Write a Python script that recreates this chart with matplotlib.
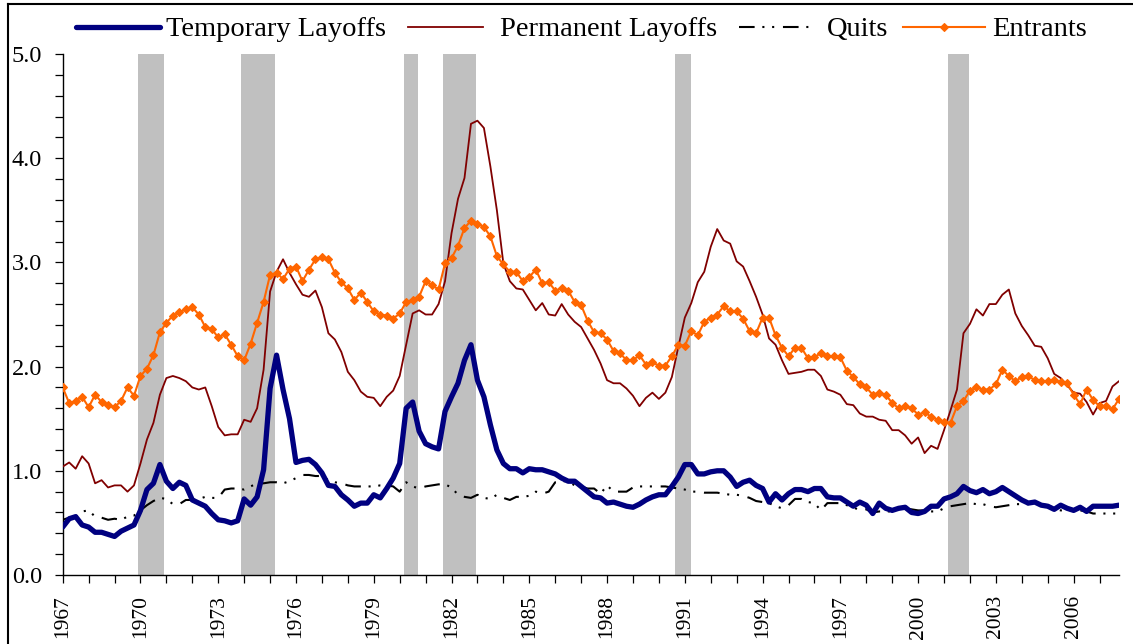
import matplotlib
matplotlib.use("Agg")
import matplotlib.pyplot as plt
import numpy as np
from matplotlib.lines import Line2D
from matplotlib.ticker import MultipleLocator, FixedLocator, FuncFormatter

plt.rcParams['font.family'] = ['Liberation Serif', 'DejaVu Serif']

start_year = 1967
periods_per_year = 4

temporary = [
    0.46, 0.54, 0.56, 0.48, 0.46, 0.41, 0.41, 0.39, 0.37, 0.42,
    0.45, 0.48, 0.62, 0.82, 0.88, 1.06, 0.90, 0.83, 0.89, 0.86,
    0.72, 0.69, 0.66, 0.59, 0.53, 0.52, 0.50, 0.52, 0.73, 0.67,
    0.75, 1.01, 1.79, 2.11, 1.78, 1.50, 1.08, 1.10, 1.11, 1.06,
    0.98, 0.86, 0.85, 0.77, 0.72, 0.66, 0.69, 0.69, 0.77, 0.74,
    0.83, 0.93, 1.07, 1.60, 1.66, 1.38, 1.26, 1.23, 1.21, 1.57,
    1.71, 1.84, 2.06, 2.21, 1.87, 1.71, 1.44, 1.20, 1.07, 1.02,
    1.02, 0.98, 1.02, 1.01, 1.01, 0.99, 0.97, 0.93, 0.90, 0.90,
    0.85, 0.80, 0.75, 0.74, 0.69, 0.70, 0.68, 0.66, 0.65, 0.68,
    0.72, 0.75, 0.77, 0.77, 0.85, 0.94, 1.06, 1.06, 0.97, 0.97,
    0.99, 1.00, 1.00, 0.94, 0.85, 0.89, 0.91, 0.86, 0.83, 0.70,
    0.78, 0.72, 0.78, 0.82, 0.82, 0.80, 0.83, 0.83, 0.75, 0.74,
    0.74, 0.70, 0.66, 0.70, 0.67, 0.59, 0.69, 0.64, 0.62, 0.64,
    0.65, 0.60, 0.59, 0.61, 0.66, 0.66, 0.73, 0.75, 0.78, 0.85,
    0.81, 0.79, 0.82, 0.78, 0.80, 0.84, 0.80, 0.76, 0.72, 0.69,
    0.70, 0.67, 0.66, 0.63, 0.67, 0.64, 0.62, 0.65, 0.61, 0.66,
    0.66, 0.66, 0.66, 0.67,
]

permanent = [
    1.04, 1.08, 1.02, 1.14, 1.07, 0.88, 0.91, 0.84, 0.86, 0.86,
    0.80, 0.86, 1.07, 1.30, 1.46, 1.73, 1.89, 1.91, 1.89, 1.86,
    1.80, 1.78, 1.80, 1.62, 1.42, 1.34, 1.35, 1.35, 1.49, 1.47,
    1.60, 1.97, 2.72, 2.91, 3.03, 2.90, 2.79, 2.69, 2.67, 2.73,
    2.57, 2.32, 2.26, 2.14, 1.95, 1.87, 1.76, 1.71, 1.70, 1.62,
    1.71, 1.77, 1.91, 2.21, 2.51, 2.54, 2.50, 2.50, 2.60, 2.82,
    3.28, 3.61, 3.81, 4.33, 4.36, 4.29, 3.92, 3.50, 2.99, 2.82,
    2.75, 2.74, 2.64, 2.54, 2.61, 2.50, 2.49, 2.60, 2.50, 2.43,
    2.38, 2.27, 2.16, 2.03, 1.87, 1.84, 1.84, 1.79, 1.72, 1.62,
    1.70, 1.75, 1.69, 1.75, 1.90, 2.19, 2.47, 2.61, 2.81, 2.91,
    3.15, 3.32, 3.21, 3.18, 3.01, 2.96, 2.82, 2.67, 2.50, 2.27,
    2.21, 2.06, 1.93, 1.94, 1.95, 1.97, 1.97, 1.91, 1.78, 1.76,
    1.73, 1.64, 1.63, 1.55, 1.52, 1.52, 1.49, 1.48, 1.39, 1.39,
    1.34, 1.26, 1.32, 1.17, 1.24, 1.21, 1.39, 1.58, 1.78, 2.32,
    2.41, 2.55, 2.49, 2.60, 2.60, 2.69, 2.74, 2.51, 2.39, 2.30,
    2.20, 2.19, 2.08, 1.93, 1.89, 1.82, 1.75, 1.74, 1.66, 1.54,
    1.65, 1.67, 1.81, 1.86,
]

quits = [
    0.53, 0.55, 0.56, 0.61, 0.62, 0.56, 0.55, 0.53, 0.54, 0.53,
    0.56, 0.57, 0.62, 0.67, 0.71, 0.74, 0.73, 0.68, 0.68, 0.72,
    0.72, 0.73, 0.75, 0.74, 0.74, 0.82, 0.83, 0.83, 0.82, 0.85,
    0.88, 0.88, 0.89, 0.89, 0.88, 0.90, 0.93, 0.96, 0.96, 0.95,
    0.95, 0.91, 0.89, 0.88, 0.86, 0.85, 0.85, 0.85, 0.85, 0.86,
    0.86, 0.85, 0.80, 0.89, 0.85, 0.83, 0.85, 0.86, 0.87, 0.87,
    0.84, 0.77, 0.75, 0.74, 0.77, 0.74, 0.73, 0.77, 0.74, 0.72,
    0.75, 0.75, 0.76, 0.80, 0.78, 0.80, 0.89, 0.90, 0.90, 0.86,
    0.85, 0.83, 0.83, 0.78, 0.86, 0.80, 0.80, 0.80, 0.84, 0.85,
    0.85, 0.85, 0.85, 0.85, 0.84, 0.83, 0.82, 0.80, 0.80, 0.79,
    0.79, 0.79, 0.78, 0.77, 0.77, 0.76, 0.74, 0.71, 0.70, 0.69,
    0.66, 0.64, 0.67, 0.73, 0.73, 0.70, 0.69, 0.62, 0.69, 0.69,
    0.69, 0.67, 0.65, 0.62, 0.63, 0.60, 0.61, 0.61, 0.61, 0.63,
    0.64, 0.63, 0.62, 0.62, 0.61, 0.61, 0.64, 0.66, 0.67, 0.68,
    0.69, 0.68, 0.68, 0.66, 0.65, 0.66, 0.67, 0.68, 0.68, 0.68,
    0.68, 0.68, 0.67, 0.64, 0.62, 0.62, 0.62, 0.62, 0.61, 0.59,
    0.59, 0.59, 0.59, 0.59,
]

entrants = [
    1.80, 1.65, 1.67, 1.71, 1.61, 1.73, 1.66, 1.63, 1.61, 1.67,
    1.80, 1.72, 1.91, 1.98, 2.11, 2.33, 2.42, 2.49, 2.52, 2.55,
    2.57, 2.50, 2.38, 2.36, 2.28, 2.31, 2.21, 2.10, 2.06, 2.22,
    2.42, 2.62, 2.88, 2.90, 2.84, 2.94, 2.96, 2.82, 2.93, 3.03,
    3.05, 3.03, 2.90, 2.81, 2.75, 2.64, 2.71, 2.62, 2.53, 2.50,
    2.49, 2.46, 2.51, 2.62, 2.64, 2.67, 2.82, 2.78, 2.74, 2.99,
    3.04, 3.16, 3.33, 3.40, 3.37, 3.34, 3.25, 3.06, 2.98, 2.91,
    2.91, 2.82, 2.86, 2.93, 2.80, 2.81, 2.73, 2.75, 2.73, 2.62,
    2.59, 2.44, 2.33, 2.32, 2.26, 2.15, 2.13, 2.06, 2.06, 2.11,
    2.02, 2.04, 2.01, 2.01, 2.10, 2.21, 2.20, 2.34, 2.30, 2.43,
    2.47, 2.50, 2.58, 2.53, 2.53, 2.46, 2.34, 2.32, 2.47, 2.47,
    2.30, 2.18, 2.10, 2.18, 2.18, 2.08, 2.09, 2.13, 2.10, 2.10,
    2.09, 1.96, 1.90, 1.83, 1.80, 1.73, 1.75, 1.73, 1.65, 1.60,
    1.62, 1.60, 1.54, 1.56, 1.52, 1.49, 1.47, 1.46, 1.62, 1.67,
    1.77, 1.80, 1.78, 1.78, 1.83, 1.97, 1.91, 1.86, 1.90, 1.91,
    1.87, 1.86, 1.86, 1.87, 1.85, 1.84, 1.73, 1.64, 1.78, 1.68,
    1.62, 1.62, 1.59, 1.69,
]

recession_start = [1969.91, 1973.89, 1980.18, 1981.68, 1990.64, 2001.15]
recession_end = [1970.92, 1975.20, 1980.71, 1982.95, 1991.22, 2001.96]

series_names = ["Temporary Layoffs", "Permanent Layoffs", "Quits", "Entrants"]
label_years = list(range(1967, 2007, 3))

n = len(temporary)
x = start_year + np.arange(n) / periods_per_year

W, H = 1133, 644
fig = plt.figure(figsize=(W / 100, H / 100), dpi=100)
ax = fig.add_axes([62.7 / W, 1 - 575 / H, (1119 - 62.7) / W, (575 - 54) / H])

for s, e in zip(recession_start, recession_end):
    ax.axvspan(s, e, ymin=0, ymax=1, color="#C0C0C0", lw=0, zorder=1)

temp_style = dict(color="#000080", lw=3.8, solid_capstyle="round", solid_joinstyle="round")
perm_style = dict(color="#800000", lw=1.3)
quit_style = dict(color="black", lw=1.5, dashes=(7.5, 3.7, 1, 3.7, 1, 4.2))
entr_style = dict(color="#FF6600", lw=1.5, marker="D", markersize=4, markeredgewidth=0.8)

ax.plot(x, temporary, zorder=5, **temp_style)
ax.plot(x, permanent, zorder=4, **perm_style)
ax.plot(x, quits, zorder=3, **quit_style)
ax.plot(x, entrants, zorder=4, **entr_style)

ax.set_xlim(start_year, x[-1])
ax.set_ylim(0, 5)

ax.spines["top"].set_visible(False)
ax.spines["right"].set_visible(False)
for sp in ("left", "bottom"):
    ax.spines[sp].set_linewidth(1.0)
    ax.spines[sp].set_color("black")

ax.yaxis.set_major_locator(MultipleLocator(1.0))
ax.yaxis.set_minor_locator(MultipleLocator(0.2))
ax.yaxis.set_major_formatter(FuncFormatter(lambda v, p: f"{v:.1f}"))
ax.tick_params(axis="y", which="major", direction="out", length=6, width=0.9,
               labelsize=17.5, pad=9)
ax.tick_params(axis="y", which="minor", direction="out", length=5.5, width=0.9)

years = np.arange(1967, 2008)
ax.xaxis.set_major_locator(FixedLocator(years))
ax.set_xticklabels([str(y) if y in label_years else "" for y in years], rotation=90)
ax.tick_params(axis="x", which="major", direction="out", length=5.5, width=0.9,
               labelsize=15.5, pad=9)

# legend entries placed as in the reference (pixel positions of handle start/end and text start)
legend_handles = [(76, 160, 166), (408, 483, 500), (739, 810, 827), (903, 985, 992)]
styles = [temp_style, perm_style, quit_style, entr_style]
ly = 1 - 26.5 / H
for (h0, h1, t0), name, st in zip(legend_handles, series_names, styles):
    st2 = dict(st)
    if "marker" in st2:
        st2["marker"] = None
        mid = (h0 + h1) / 2 / W
        fig.add_artist(Line2D([mid], [ly], transform=fig.transFigure, marker="D",
                              markersize=4, color=st["color"], markeredgewidth=0.8, lw=0))
    fig.add_artist(Line2D([h0 / W, h1 / W], [ly, ly], transform=fig.transFigure, **st2))
    fig.text(t0 / W, 1 - 36 / H, name, fontsize=20.5, ha="left", va="baseline")

fig.add_artist(Line2D([8 / W, 8 / W], [0, 1 - 4 / H], transform=fig.transFigure,
                      color="black", lw=1.5))
fig.add_artist(Line2D([8 / W, 1], [1 - 4 / H, 1 - 4 / H], transform=fig.transFigure,
                      color="black", lw=1.5))

fig.savefig("out.png", dpi=100)
